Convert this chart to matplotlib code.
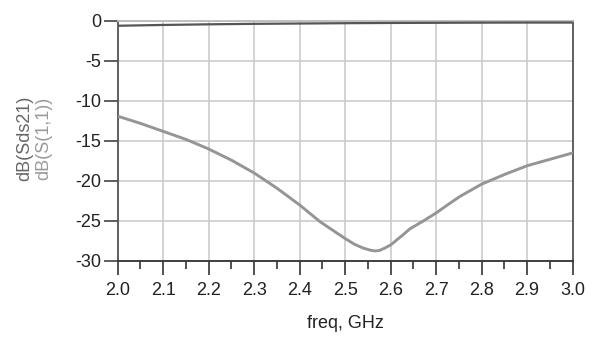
#!/usr/bin/env python3
# s_param_plot.py - S21 / S11 response of the filter, 2-3 GHz
import numpy as np
import matplotlib.pyplot as plt
from matplotlib.ticker import MultipleLocator

# ----------------------------- Data -----------------------------
freq_s21 = [2.0, 2.1, 2.2, 2.3, 2.4, 2.5, 2.6, 2.7, 2.8, 2.9, 3.0]
s21_db = [-0.6, -0.5, -0.42, -0.36, -0.32, -0.28, -0.25, -0.23, -0.21, -0.2, -0.2]

freq_s11 = [2.0, 2.05, 2.1, 2.15, 2.2, 2.25, 2.3, 2.35, 2.4, 2.445, 2.5,
            2.52, 2.54, 2.555, 2.565, 2.575, 2.587, 2.6, 2.613, 2.628, 2.642,
            2.657, 2.672, 2.7, 2.725, 2.752, 2.8, 2.85, 2.9, 2.95, 3.0]
s11_db = [-11.9, -12.8, -13.8, -14.8, -16.0, -17.4, -19.0, -20.9, -23.0, -25.1, -27.2,
          -27.9, -28.4, -28.65, -28.75, -28.7, -28.4, -28.0, -27.4, -26.7, -26.0,
          -25.5, -25.0, -24.0, -23.0, -21.95, -20.4, -19.2, -18.1, -17.3, -16.5]

xticks = np.arange(2.0, 3.01, 0.1)
yticks = [0, -5, -10, -15, -20, -25, -30]

# ----------------------------- Plotting -----------------------------
plt.rcParams['font.family'] = ['Liberation Sans', 'DejaVu Sans']
plt.rcParams['axes.unicode_minus'] = False

fig = plt.figure(figsize=(5.94, 3.38), dpi=100)
ax = fig.add_axes([0.198, 0.228, 0.766, 0.710])

ax.plot(freq_s11, s11_db, color="#959595", linewidth=2.1, solid_joinstyle="round", zorder=3)
ax.plot(freq_s21, s21_db, color="#555555", linewidth=1.6, solid_capstyle="butt", zorder=3)

ax.set_xlim(2.0, 3.0)
ax.set_ylim(-30, 0)
ax.set_xticks(xticks)
ax.set_xticklabels([f"{t:.1f}" for t in xticks])
ax.xaxis.set_minor_locator(MultipleLocator(0.05))
ax.set_yticks(yticks)

ax.grid(True, which="major", color="#c8c8c8", linewidth=1.1, zorder=0)
ax.tick_params(axis="both", which="major", labelsize=13, colors="#222222")
ax.tick_params(axis="y", which="major", length=10, width=1.2, pad=2, color="#444444")
ax.tick_params(axis="x", which="major", direction="out", length=10, width=1.2, pad=5, color="#333333")
ax.tick_params(axis="x", which="minor", direction="out", length=6, width=1.2, color="#333333")

for side in ("left", "right"):
    ax.spines[side].set_color("#555555")
    ax.spines[side].set_linewidth(1.3)
ax.spines["bottom"].set_color("#333333")
ax.spines["bottom"].set_linewidth(1.3)
ax.spines["top"].set_color("#bbbbbb")
ax.spines["top"].set_linewidth(1.3)

ax.set_xlabel("freq, GHz", fontsize=13, color="#222222", labelpad=12)

# two stacked y labels, one per trace colour
fig.text(0.042, 0.59, "dB(Sds21)", rotation=90, fontsize=13, color="#666666",
         ha="center", va="center")
fig.text(0.073, 0.59, "dB(S(1,1))", rotation=90, fontsize=13, color="#9a9a9a",
         ha="center", va="center")

fig.savefig("out.png", dpi=100)
